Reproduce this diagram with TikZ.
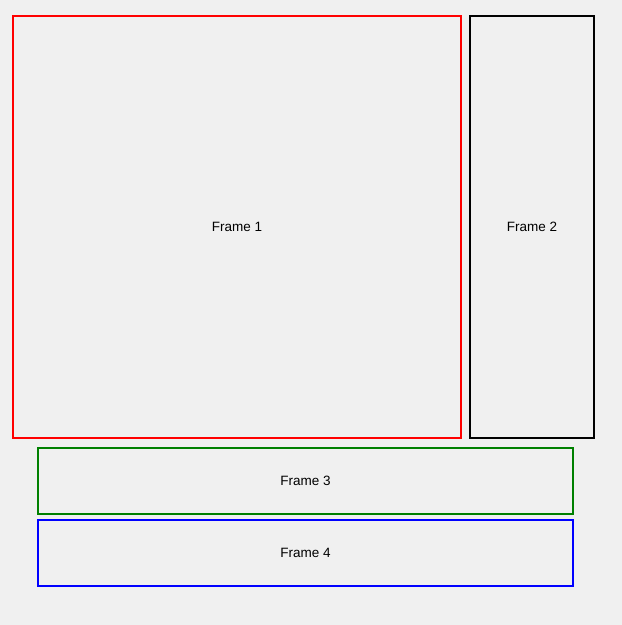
\documentclass[tikz,border=0pt]{standalone}
\usepackage{fontspec}
\setmainfont{Liberation Sans}
\usetikzlibrary{positioning}

\tikzset{
  frame/.style={draw, line width=2pt, inner sep=0pt, anchor=north west,
    font=\fontsize{13.5}{16}\selectfont, text=black}
}

\begin{document}
\begin{tikzpicture}[x=1pt, y=-1pt]
    % background window
    \fill[fill={rgb,255:red,240;green,240;blue,240}] (0,0) rectangle (622,625);
    \useasboundingbox (0,0) rectangle (622,625);

    % top row
    \node[frame, draw=red, minimum width=448pt, minimum height=422pt] (frame1) at (12,15) {Frame 1};
    \node[frame, draw=black, minimum width=124pt, minimum height=422pt] (frame2) at (469,15) {Frame 2};

    % bottom rows
    \node[frame, draw=green!50!black, minimum width=535pt, minimum height=66pt] (frame3) at (37,447) {Frame 3};
    \node[frame, draw=blue, minimum width=535pt, minimum height=66pt] (frame4) at (37,519) {Frame 4};
\end{tikzpicture}
\end{document}
